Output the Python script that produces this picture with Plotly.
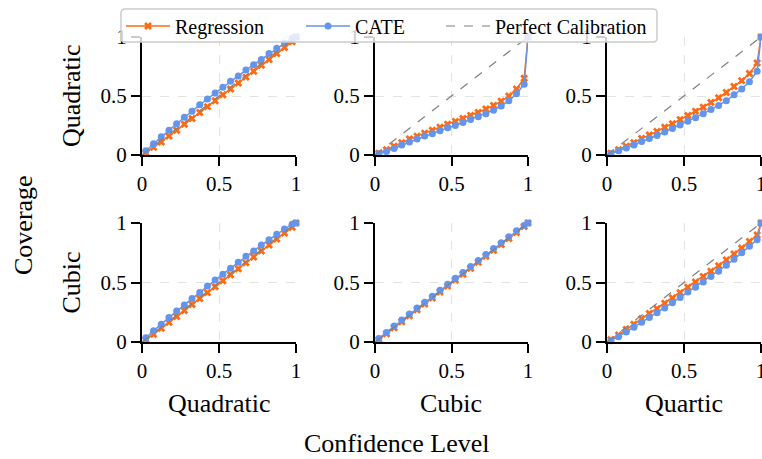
import plotly.graph_objects as go

conf_level = [0.025, 0.075, 0.125, 0.175, 0.225, 0.275, 0.325, 0.375, 0.425, 0.475,
              0.525, 0.575, 0.625, 0.675, 0.725, 0.775, 0.825, 0.875, 0.925, 0.975, 1.0]

row_names = ["Quadratic", "Cubic"]
col_names = ["Quadratic", "Cubic", "Quartic"]

# Regression coverage per (row, col)
reg_quad_quad = [0.02, 0.065, 0.11, 0.16, 0.21, 0.26, 0.31, 0.36, 0.41, 0.46, 0.51, 0.56, 0.61, 0.66, 0.71, 0.76, 0.81, 0.86, 0.91, 0.96, 1.0]
reg_quad_cubic = [0.015, 0.045, 0.075, 0.105, 0.135, 0.16, 0.185, 0.21, 0.235, 0.26, 0.285, 0.31, 0.335, 0.36, 0.39, 0.42, 0.455, 0.5, 0.56, 0.65, 1.0]
reg_quad_quartic = [0.015, 0.045, 0.075, 0.105, 0.14, 0.17, 0.2, 0.235, 0.265, 0.3, 0.335, 0.37, 0.405, 0.445, 0.485, 0.53, 0.58, 0.63, 0.69, 0.78, 1.0]
reg_cubic_quad = [0.02, 0.065, 0.115, 0.165, 0.215, 0.265, 0.315, 0.365, 0.415, 0.465, 0.515, 0.565, 0.615, 0.665, 0.715, 0.765, 0.815, 0.865, 0.915, 0.965, 1.0]
reg_cubic_cubic = [0.02, 0.07, 0.12, 0.17, 0.22, 0.27, 0.32, 0.37, 0.42, 0.47, 0.52, 0.57, 0.62, 0.67, 0.72, 0.77, 0.82, 0.87, 0.92, 0.97, 1.0]
reg_cubic_quartic = [0.02, 0.06, 0.105, 0.15, 0.195, 0.24, 0.28, 0.325, 0.37, 0.415, 0.46, 0.505, 0.55, 0.595, 0.64, 0.69, 0.74, 0.79, 0.845, 0.9, 1.0]

# CATE coverage per (row, col)
cate_quad_quad = [0.035, 0.095, 0.155, 0.21, 0.265, 0.32, 0.37, 0.425, 0.475, 0.525, 0.575, 0.625, 0.67, 0.72, 0.765, 0.81, 0.86, 0.905, 0.95, 0.99, 1.0]
cate_quad_cubic = [0.01, 0.03, 0.055, 0.085, 0.11, 0.135, 0.16, 0.18, 0.205, 0.23, 0.25, 0.275, 0.3, 0.325, 0.35, 0.38, 0.415, 0.46, 0.52, 0.6, 1.0]
cate_quad_quartic = [0.01, 0.035, 0.06, 0.085, 0.115, 0.14, 0.165, 0.195, 0.225, 0.255, 0.285, 0.315, 0.35, 0.385, 0.42, 0.46, 0.51, 0.56, 0.62, 0.71, 1.0]
cate_cubic_quad = [0.035, 0.095, 0.15, 0.205, 0.26, 0.31, 0.365, 0.415, 0.47, 0.52, 0.57, 0.62, 0.67, 0.72, 0.765, 0.815, 0.86, 0.905, 0.95, 0.99, 1.0]
cate_cubic_cubic = [0.03, 0.08, 0.135, 0.185, 0.235, 0.285, 0.335, 0.385, 0.435, 0.485, 0.535, 0.585, 0.635, 0.685, 0.735, 0.785, 0.835, 0.885, 0.935, 0.98, 1.0]
cate_cubic_quartic = [0.01, 0.045, 0.085, 0.125, 0.165, 0.205, 0.245, 0.285, 0.33, 0.375, 0.42, 0.46, 0.505, 0.55, 0.595, 0.645, 0.695, 0.75, 0.805, 0.86, 1.0]

reg_series = [[reg_quad_quad, reg_quad_cubic, reg_quad_quartic],
              [reg_cubic_quad, reg_cubic_cubic, reg_cubic_quartic]]
cate_series = [[cate_quad_quad, cate_quad_cubic, cate_quad_quartic],
               [cate_cubic_quad, cate_cubic_cubic, cate_cubic_quartic]]

diag = [0.0, 1.0]
tick_vals = [0, 0.5, 1]
tick_text = ["0", "0.5", "1"]

W, H = 762, 459
col_px = [(142, 296), (375, 528), (607, 761)]
row_px = [(37, 155), (223, 342)]

ORANGE = "#FF6A13"
BLUE = "#6495ED"
FONT = "Liberation Serif"
TICK_SIZE = 21
LABEL_SIZE = 26
LEGEND_SIZE = 20

fig = go.Figure()
layout = {}
annotations = []
idx = 0
for r in range(2):
    for c in range(3):
        idx += 1
        xa = "x" if idx == 1 else f"x{idx}"
        ya = "y" if idx == 1 else f"y{idx}"
        xkey = "xaxis" if idx == 1 else f"xaxis{idx}"
        ykey = "yaxis" if idx == 1 else f"yaxis{idx}"
        x0, x1 = col_px[c]
        yt, yb = row_px[r]
        common = dict(range=[0, 1], showline=True, linecolor="black", linewidth=2,
                      ticks="outside", ticklen=9, tickwidth=2, tickcolor="black",
                      tickvals=tick_vals, ticktext=tick_text, ticklabeloverflow="allow",
                      tickfont=dict(family=FONT, size=TICK_SIZE, color="black"),
                      showgrid=True, gridcolor="#e3e3e3", griddash="dash", gridwidth=1,
                      zeroline=False, mirror=False, automargin=False)
        layout[xkey] = dict(common, domain=[x0 / W, x1 / W], anchor=ya)
        layout[ykey] = dict(common, domain=[1 - yb / H, 1 - yt / H], anchor=xa)
        first = idx == 1
        fig.add_trace(go.Scatter(x=conf_level, y=reg_series[r][c], mode="lines+markers",
                                 name="Regression", showlegend=first, legend="legend",
                                 line=dict(color=ORANGE, width=1.5),
                                 marker=dict(symbol="x", size=7, color=ORANGE),
                                 xaxis=xa, yaxis=ya, cliponaxis=False))
        fig.add_trace(go.Scatter(x=conf_level, y=cate_series[r][c], mode="lines+markers",
                                 name="CATE", showlegend=first, legend="legend2",
                                 line=dict(color=BLUE, width=1.5),
                                 marker=dict(symbol="circle", size=7, color=BLUE),
                                 xaxis=xa, yaxis=ya, cliponaxis=False))
        fig.add_trace(go.Scatter(x=diag, y=diag, mode="lines", name="Perfect Calibration",
                                 showlegend=first, legend="legend3",
                                 line=dict(color="gray", width=1.2, dash="dash"),
                                 xaxis=xa, yaxis=ya, cliponaxis=False))

for r in range(2):
    yt, yb = row_px[r]
    annotations.append(dict(text=row_names[r], x=71 / W, y=1 - (yt + yb) / 2 / H,
                            xref="paper", yref="paper", showarrow=False, textangle=-90,
                            font=dict(family=FONT, size=LABEL_SIZE, color="black"),
                            xanchor="center", yanchor="middle"))
for c in range(3):
    x0, x1 = col_px[c]
    annotations.append(dict(text=col_names[c], x=(x0 + x1) / 2 / W, y=1 - 403 / H,
                            xref="paper", yref="paper", showarrow=False,
                            font=dict(family=FONT, size=LABEL_SIZE, color="black"),
                            xanchor="center", yanchor="middle"))
annotations.append(dict(text="Coverage", x=23 / W, y=1 - 225 / H, xref="paper", yref="paper",
                        showarrow=False, textangle=-90,
                        font=dict(family=FONT, size=LABEL_SIZE, color="black"),
                        xanchor="center", yanchor="middle"))
annotations.append(dict(text="Confidence Level", x=397 / W, y=1 - 443 / H, xref="paper",
                        yref="paper", showarrow=False,
                        font=dict(family=FONT, size=LABEL_SIZE, color="black"),
                        xanchor="center", yanchor="middle"))

# rounded legend frame (pixels -> paper)
bx0, bx1, by0, by1, rad = 121, 657, 9, 42, 4
def px(v):
    return v / W
def py(v):
    return 1 - v / H
frame_path = (f"M {px(bx0 + rad)},{py(by0)} L {px(bx1 - rad)},{py(by0)} "
              f"Q {px(bx1)},{py(by0)} {px(bx1)},{py(by0 + rad)} "
              f"L {px(bx1)},{py(by1 - rad)} Q {px(bx1)},{py(by1)} {px(bx1 - rad)},{py(by1)} "
              f"L {px(bx0 + rad)},{py(by1)} Q {px(bx0)},{py(by1)} {px(bx0)},{py(by1 - rad)} "
              f"L {px(bx0)},{py(by0 + rad)} Q {px(bx0)},{py(by0)} {px(bx0 + rad)},{py(by0)} Z")

legend_common = dict(orientation="h", xanchor="left", yanchor="middle", y=1 - 26 / H,
                     bgcolor="rgba(0,0,0,0)", borderwidth=0, itemwidth=44,
                     font=dict(family=FONT, size=LEGEND_SIZE, color="black"))

fig.update_layout(
    width=W, height=H, margin=dict(l=0, r=0, t=0, b=0, autoexpand=False),
    plot_bgcolor="white", paper_bgcolor="white",
    showlegend=True,
    legend=dict(legend_common, x=121 / W),
    legend2=dict(legend_common, x=301 / W),
    legend3=dict(legend_common, x=441 / W),
    shapes=[dict(type="path", path=frame_path, xref="paper", yref="paper",
                 fillcolor="rgba(255,255,255,0.8)", line=dict(color="#cccccc", width=1.5),
                 layer="above")],
    annotations=annotations,
    **layout,
)

fig.write_html("out.html")
